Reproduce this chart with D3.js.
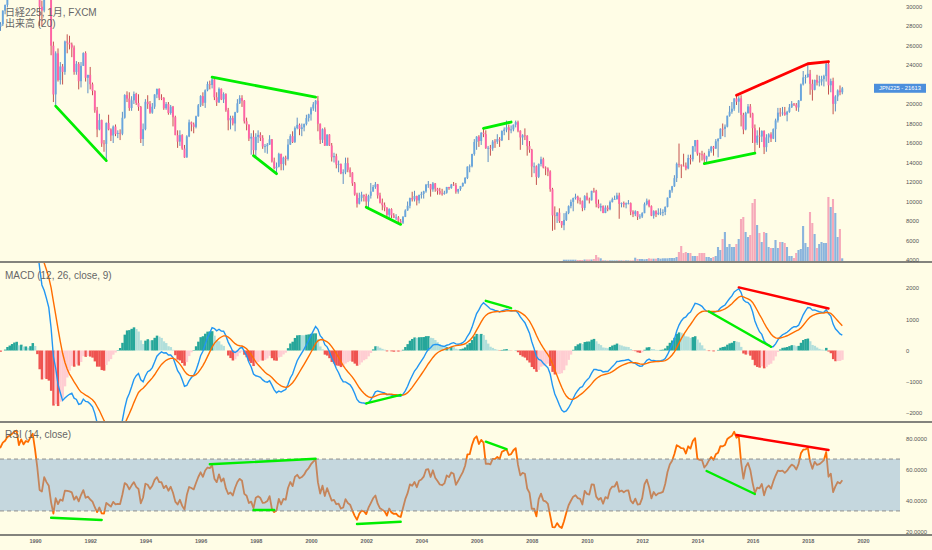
<!DOCTYPE html>
<html>
<head>
<meta charset="utf-8">
<script src="https://cdn.jsdelivr.net/npm/d3@7"></script>
<style>
  body { margin: 0; background: #fffde6; }
  svg { display: block; font-family: "Liberation Sans", "Noto Sans CJK JP", sans-serif; }
</style>
</head>
<body>
<div id="chart"></div>
<script>
// Monthly bars from Jan 1986 to Apr 2019 (open = previous close)
const startYear = 1986;
const prevClose = 13113;
const closes = [
  13024, 13641, 15860, 15825, 16626, 17654, 17471, 18787, 17852, 16910, 17852, 18701,
  20048, 20766, 21566, 23274, 25229, 24176, 24488, 26029, 26011, 22765, 22687, 21564,
  23622, 24694, 26260, 27434, 27418, 27769, 28078, 27896, 27924, 28180, 29579, 30159,
  31581, 31985, 32839, 33713, 34267, 32949, 34954, 34431, 35637, 35549, 37269, 38916,
  37189, 34592, 29980, 29585, 33131, 31940, 31036, 25978, 20984, 25194, 22455, 23849,
  23293, 26409, 26292, 26111, 25790, 23291, 24121, 22336, 23916, 25222, 22687, 22984,
  22023, 21339, 19346, 17391, 18348, 15952, 15910, 18061, 17399, 16767, 17684, 16925,
  17024, 16953, 18591, 20919, 20552, 19590, 20380, 21027, 20106, 19703, 16408, 17417,
  20229, 19997, 19112, 19725, 20974, 21552, 20644, 20629, 19564, 19990, 19076, 19723,
  18650, 16806, 16140, 16807, 15437, 14517, 16678, 18117, 17913, 17655, 18744, 19868,
  20812, 20125, 21406, 22041, 21956, 22530, 20693, 20167, 21556, 20467, 21020, 19361,
  18330, 18557, 18003, 19151, 20068, 20605, 20331, 18229, 17888, 16458, 16636, 15259,
  16628, 16831, 16527, 15641, 15671, 15830, 16379, 14108, 13406, 13565, 14884, 13842,
  14499, 14368, 15837, 16702, 16112, 17530, 17862, 17437, 17605, 17942, 18558, 18934,
  19540, 19960, 20337, 17974, 16332, 17411, 15727, 16861, 15747, 14540, 14649, 13786,
  13844, 12884, 12999, 13934, 13262, 12969, 11861, 10714, 9775, 10366, 10697, 10543,
  9998, 10588, 11025, 11493, 11764, 10622, 9878, 9619, 9383, 8640, 9216, 8579,
  8340, 8363, 7973, 7831, 8425, 9083, 9563, 10344, 10219, 10560, 10101, 10677,
  10784, 11042, 11715, 11762, 11236, 11859, 11326, 11082, 10824, 10771, 10899, 11489,
  11388, 11740, 11669, 11009, 11277, 11584, 11900, 12414, 13574, 13607, 14872, 16111,
  16650, 16205, 17060, 16907, 15467, 15505, 15457, 16141, 16128, 16399, 16274, 17226,
  17383, 17604, 17288, 17400, 17876, 18138, 17249, 16569, 16786, 16737, 15681, 15308,
  13592, 13603, 12526, 13850, 14339, 13481, 13377, 13073, 11260, 8577, 8512, 8860,
  7994, 7568, 8110, 8828, 9523, 9958, 10357, 10493, 10133, 10035, 9345, 10546,
  10198, 10126, 11090, 11057, 9769, 9383, 9537, 8824, 9369, 9202, 9937, 10229,
  10238, 10624, 9755, 9850, 9694, 9816, 9833, 8955, 8700, 8988, 8435, 8455,
  8803, 9723, 10084, 9521, 8543, 9007, 8695, 8840, 8870, 8928, 9446, 10395,
  11139, 11559, 12398, 13861, 13775, 13677, 13668, 13389, 14456, 14328, 15662, 16291,
  14915, 14841, 14828, 14304, 14632, 15162, 15621, 15425, 16174, 16414, 17460, 17451,
  17674, 18798, 19207, 19520, 20563, 20236, 20585, 18890, 17388, 19083, 19747, 19034,
  17518, 16027, 16759, 16666, 17235, 15576, 16569, 16887, 16450, 17425, 18308, 19114,
  19041, 19119, 18909, 19197, 19651, 20033, 19925, 19646, 20356, 22012, 22725, 22765,
  23098, 22068, 21454, 22468, 22202, 22305, 22554, 22865, 24120, 21920, 22351, 20015,
  20773, 21385, 21206, 21613
];
const highs = [
  13140, 13700, 15900, 15990, 16700, 17700, 18100, 18900, 18937, 17900, 17900, 18900,
  20100, 21000, 22000, 24000, 25300, 25900, 25000, 26100, 26300, 26650, 23500, 23000,
  23800, 24800, 26300, 27600, 28000, 27900, 28300, 28300, 28200, 28400, 29600, 30200,
  31700, 32300, 32900, 33800, 34300, 34400, 35000, 35000, 35700, 35800, 37300, 38957,
  38950, 37400, 34600, 30600, 33300, 33200, 33200, 31100, 26400, 25400, 25700, 24300,
  24100, 26500, 27146, 27000, 26300, 26000, 24400, 24300, 24300, 25300, 25400, 23000,
  23800, 22200, 21400, 19700, 19000, 18400, 16300, 18100, 18900, 17500, 17800, 17900,
  17300, 17400, 19200, 21000, 21300, 21200, 20800, 21281, 21150, 21000, 19800, 18000,
  20500, 20900, 20300, 20100, 21000, 21573, 21600, 21000, 20700, 20200, 20200, 19900,
  19800, 18800, 17300, 17300, 16900, 15800, 16800, 18400, 18200, 18100, 18800, 20000,
  20900, 21200, 21500, 22300, 22400, 22750, 22700, 21200, 21700, 21600, 21200, 21100,
  19600, 18800, 18800, 19200, 20500, 20900, 20900, 20400, 18600, 17900, 17000, 17300,
  17000, 17300, 17100, 16800, 15900, 16000, 16800, 16400, 14500, 14000, 15000, 14900,
  14600, 14700, 16400, 16900, 17200, 17700, 18600, 18000, 18000, 18000, 18900, 19000,
  19700, 20200, 20400, 20833, 18000, 17500, 17600, 16900, 16900, 16000, 15000, 14900,
  14200, 13900, 13300, 14500, 14500, 13500, 13000, 12000, 10900, 10900, 11000, 10700,
  10800, 10700, 11900, 11700, 12000, 11800, 10900, 10300, 9900, 9400, 9300, 9300,
  8800, 8700, 8500, 8200, 8500, 9200, 10000, 10400, 11000, 11100, 10600, 10700,
  11000, 11100, 11800, 12100, 11800, 12000, 11900, 11400, 11400, 11300, 11100, 11500,
  11500, 11800, 12000, 11900, 11300, 11600, 11950, 12500, 13600, 13800, 14900, 16400,
  16700, 16800, 17100, 17563, 17300, 15700, 15800, 16300, 16400, 16900, 16600, 17300,
  17600, 18300, 17900, 17800, 17900, 18300, 18295, 17300, 16900, 17500, 16800, 16200,
  15400, 14000, 13700, 13900, 14600, 14500, 13600, 13500, 13200, 11400, 9500, 8900,
  9300, 8000, 8800, 9000, 9600, 10200, 10400, 10800, 10600, 10400, 10100, 10650,
  10900, 10400, 11100, 11400, 11200, 10200, 9800, 9600, 9600, 9600, 10100, 10400,
  10600, 10900, 10900, 9900, 10000, 9900, 10150, 9900, 9100, 9100, 9000, 8700,
  8900, 9900, 10300, 10200, 9600, 9100, 9100, 9300, 9300, 9200, 9500, 10400,
  11200, 11600, 12700, 14000, 15942, 13800, 14900, 14000, 14800, 14800, 15700, 16300,
  16320, 15000, 15200, 15000, 14700, 15400, 15700, 15700, 16400, 16500, 17500, 18000,
  17900, 18800, 19800, 20200, 20600, 20952, 20800, 20900, 19100, 19200, 20000, 20000,
  19100, 17900, 17300, 17600, 17300, 17300, 16900, 17000, 17100, 17500, 18500, 19600,
  19600, 19700, 19700, 19300, 20000, 20300, 20100, 20100, 20400, 22100, 23382, 23000,
  24129, 23500, 22500, 22500, 23000, 22900, 22900, 23000, 24300, 24448, 22600, 22700,
  20900, 21500, 21900, 21750
];
const lows = [
  12880, 12900, 13600, 14800, 15450, 16500, 16900, 17200, 17400, 15820, 16600, 17800,
  18500, 19500, 20500, 21500, 23000, 24000, 23300, 24400, 25400, 21000, 21400, 21000,
  21200, 23400, 24600, 26100, 27000, 27200, 27400, 27400, 27100, 27500, 28000, 29200,
  29900, 31100, 31500, 32600, 33500, 32800, 32800, 34000, 34300, 34900, 35500, 37200,
  36800, 33300, 28000, 28000, 29400, 31500, 31000, 25000, 20200, 19781, 22300, 22000,
  22000, 23000, 25200, 25600, 24800, 23000, 23000, 21500, 21700, 23900, 22300, 21100,
  21500, 20900, 19100, 16600, 17300, 15600, 15100, 14194, 17300, 16200, 16000, 16700,
  16500, 16300, 16800, 18500, 20200, 19300, 19300, 20000, 19900, 19300, 16000, 15700,
  17300, 19500, 19000, 19000, 19500, 20600, 20400, 20400, 19400, 19400, 18900, 18900,
  17700, 16800, 15500, 15700, 15300, 14485, 14500, 16600, 17200, 17000, 17500, 18700,
  19700, 19800, 19600, 21300, 21500, 21600, 20400, 19800, 20100, 20400, 20100, 19200,
  17300, 17400, 17800, 17200, 19100, 20000, 19700, 18000, 17300, 16200, 14800, 14775,
  14488, 16000, 16200, 15400, 15000, 14900, 15800, 14000, 13300, 12787, 13500, 13200,
  13200, 13700, 14200, 15800, 16000, 16000, 17400, 16800, 16700, 17200, 17800, 18200,
  18300, 19300, 19200, 17200, 15900, 16000, 15700, 15700, 15700, 14100, 14000, 13400,
  13000, 12800, 11800, 12800, 13000, 12500, 11600, 10600, 9380, 9700, 10000, 10000,
  9420, 9400, 10300, 11000, 11300, 10300, 9800, 9100, 9000, 8200, 8300, 8300,
  8300, 8100, 7800, 7603, 7700, 8400, 9050, 9300, 10000, 10000, 9600, 9800,
  10300, 10300, 10900, 11400, 10500, 11000, 11000, 10700, 10700, 10600, 10700, 10800,
  11200, 11300, 11600, 10800, 10800, 11100, 11500, 11800, 12300, 13000, 13500, 14700,
  15300, 15600, 15800, 16600, 15400, 14045, 14700, 15200, 15500, 15900, 15600, 16200,
  16800, 17100, 16300, 17000, 17200, 17600, 17100, 15300, 15800, 16300, 14700, 15000,
  12500, 12900, 11700, 12400, 13600, 13400, 12700, 12600, 11000, 6994, 7100, 7800,
  7800, 7300, 7054, 8000, 8700, 9300, 9000, 10200, 9800, 9700, 9000, 9100,
  10100, 9800, 10100, 10900, 9400, 9300, 9000, 8800, 8800, 9000, 9100, 9900,
  10200, 10200, 8227, 9400, 9400, 9300, 9700, 8600, 8400, 8500, 8100, 8200,
  8300, 8800, 9600, 9400, 8500, 8240, 8400, 8600, 8600, 8500, 8600, 9400,
  10350, 10900, 11500, 12000, 13500, 12400, 13600, 13200, 13300, 13800, 14100, 15100,
  14700, 13995, 14200, 13885, 13960, 14600, 15000, 14700, 15400, 14529, 16400, 16700,
  16600, 17600, 18700, 19000, 19300, 19900, 19100, 17700, 16901, 17300, 19000, 18600,
  16000, 14865, 15800, 15500, 16100, 14864, 15100, 16000, 16100, 16400, 16100, 18100,
  18700, 18800, 18800, 18224, 19100, 19600, 19800, 19300, 19200, 20300, 21900, 22100,
  22700, 20950, 20347, 21400, 21900, 21800, 21900, 21800, 22300, 20971, 21200, 18948,
  19240, 20300, 20900, 21000
];
// volume (thousands) exists from Jan 2009
const volumeStart = 2009;
const volumes = [
  0, 0, 1.3, 1.3, 1.3, 1.3, 1.3, 1.3, 1, 1, 1, 1.5,
  1.5, 1.5, 1.5, 2, 6, 3.7, 2.7, 0.8, 0.6, 0.6, 0.6, 0.6,
  0.6, 0.6, 0.8, 0.6, 0.6, 0.6, 0.6, 0.6, 0.6, 3.3, 2, 2,
  2, 1.7, 2, 2.7, 2.3, 2.3, 2.3, 3, 2.3, 2.7, 2.7, 2.7,
  3, 3, 3, 4, 9, 15, 8, 9, 8, 8, 5, 5,
  5, 8, 8, 8, 4, 4, 3, 4, 5, 14, 11, 22,
  29, 14, 17, 14, 14, 17, 22, 42, 44, 29, 24, 26,
  58, 62, 36, 28, 19, 29, 28, 14, 13, 13, 21, 13,
  19, 19, 18, 14, 5, 5, 3, 8, 11, 12, 35, 18,
  14, 49, 38, 27, 13, 17, 19, 18, 18, 64, 54, 62,
  48, 24, 32, 2.7
];

const priceTicks = d3.range(4000, 30001, 2000);
const macdTicks = [2000, 1000, 0, -1000, -2000];
const rsiTicks = [80, 60, 40, 20];
const rsiBand = [33.33, 66.67];
const yearTicks = d3.range(1990, 2021, 2);
const lastPrice = 21613;

// hand-drawn trendlines: [month, value]
const priceLines = [
  { color: "#00ee00", pts: [["1990-10", 19781], ["1992-08", 14194]] },
  { color: "#00ee00", pts: [["1996-06", 22750], ["2000-03", 20700]] },
  { color: "#00ee00", pts: [["1997-12", 14700], ["1998-10", 12850]] },
  { color: "#00ee00", pts: [["2002-01", 9420], ["2003-04", 7650]] },
  { color: "#00ee00", pts: [["2006-04", 17500], ["2007-04", 18150]] },
  { color: "#00ee00", pts: [["2014-04", 13885], ["2016-02", 14950]] },
  { color: "#ff0000", pts: [["2015-06", 20900], ["2018-01", 24129], ["2018-10", 24350]] }
];
const macdLines = [
  { color: "#00ee00", pts: [["2002-01", -1690], ["2003-04", -1420]] },
  { color: "#00ee00", pts: [["2006-05", 1590], ["2007-04", 1355]] },
  { color: "#00ee00", pts: [["2014-06", 1250], ["2016-09", 120]] },
  { color: "#ff0000", pts: [["2015-07", 2020], ["2018-10", 1345]] }
];
const rsiLines = [
  { color: "#00ee00", pts: [["1990-08", 29], ["1992-06", 27.5]] },
  { color: "#00ee00", pts: [["1996-05", 63.3], ["2000-03", 66.9]] },
  { color: "#00ee00", pts: [["1997-12", 33.9], ["1998-09", 33.9]] },
  { color: "#00ee00", pts: [["2001-09", 24.9], ["2003-04", 26.4]] },
  { color: "#00ee00", pts: [["2006-05", 77.8], ["2007-02", 73.1]] },
  { color: "#00ee00", pts: [["2014-05", 59], ["2016-02", 44.2]] },
  { color: "#ff0000", pts: [["2015-06", 82.1], ["2018-10", 72.5]] }
];

const monthTime = s => +s.slice(0, 4) + (+s.slice(5, 7) - 1) / 12;

const bars = closes.map((c, i) => ({
  t: startYear + i / 12,
  o: i === 0 ? prevClose : closes[i - 1],
  h: highs[i], l: lows[i], c
}));
const volOffset = (volumeStart - startYear) * 12;
volumes.forEach((v, j) => { bars[volOffset + j].v = v; });

// indicators, computed from the closes the way the platform does
function smooth(src, len, alpha) {
  const out = src.map(() => null);
  let prev = null, buf = [];
  src.forEach((v, i) => {
    if (v == null) return;
    if (prev == null) {
      buf.push(v);
      if (buf.length === len) { prev = d3.mean(buf); out[i] = prev; }
    } else {
      prev = alpha * v + (1 - alpha) * prev;
      out[i] = prev;
    }
  });
  return out;
}
const ema = (src, len) => smooth(src, len, 2 / (len + 1));
const rma = (src, len) => smooth(src, len, 1 / len);

const fast = ema(closes, 12), slow = ema(closes, 26);
const macd = closes.map((c, i) => fast[i] == null || slow[i] == null ? null : fast[i] - slow[i]);
const signal = ema(macd, 9);
const hist = macd.map((m, i) => m == null || signal[i] == null ? null : m - signal[i]);
const ups = closes.map((c, i) => i === 0 ? null : Math.max(c - closes[i - 1], 0));
const downs = closes.map((c, i) => i === 0 ? null : Math.max(closes[i - 1] - c, 0));
const upAvg = rma(ups, 14), downAvg = rma(downs, 14);
const rsi = closes.map((c, i) => upAvg[i] == null ? null :
  downAvg[i] === 0 ? 100 : 100 - 100 / (1 + upAvg[i] / downAvg[i]));

// layout
const width = 932, height = 550;
const bg = "#fffde6";

const svg = d3.select("#chart").append("svg")
  .attr("width", width)
  .attr("height", height);
svg.append("rect").attr("width", width).attr("height", height).attr("fill", bg);

const x = d3.scaleLinear().domain([1990, 2020]).range([35, 863]);
const yPrice = d3.scaleLinear().domain([4000, 30000]).range([260, 6.5]);
const yVol = d3.scaleLinear().domain([0, 66]).range([261, 195]);
const yMacd = d3.scaleLinear().domain([-2000, 2000]).range([413, 288]);
const yRsi = d3.scaleLinear().domain([20, 80]).range([531.7, 438.3]);
const step = x(1990 + 1 / 12) - x(1990);

const defs = svg.append("defs");
function addClip(id, y0, y1) {
  defs.append("clipPath").attr("id", id)
    .append("rect").attr("x", 0).attr("y", y0).attr("width", 900).attr("height", y1 - y0);
}
addClip("clipMain", 0, 261.5);
addClip("clipMacd", 263, 421);
addClip("clipRsi", 423, 534);

function drawTrend(g, lines, y, w) {
  lines.forEach(l => {
    g.append("path")
      .attr("d", d3.line().x(p => x(monthTime(p[0]))).y(p => y(p[1]))(l.pts))
      .attr("fill", "none")
      .attr("stroke", l.color)
      .attr("stroke-width", w)
      .attr("stroke-linecap", "round")
      .attr("stroke-linejoin", "round");
  });
}

// main panel
const main = svg.append("g").attr("clip-path", "url(#clipMain)");

main.selectAll("rect.vol")
  .data(bars.filter(d => d.v > 0))
  .enter().append("rect")
  .attr("class", "vol")
  .attr("x", d => x(d.t) - step / 2)
  .attr("width", step - 0.2)
  .attr("y", d => yVol(d.v))
  .attr("height", d => yVol(0) - yVol(d.v))
  .attr("fill", d => d.c >= d.o ? "#8ab4dd" : "#f6a9b9");

main.selectAll("line.wick")
  .data(bars)
  .enter().append("line")
  .attr("class", "wick")
  .attr("x1", d => x(d.t)).attr("x2", d => x(d.t))
  .attr("y1", d => yPrice(Math.max(d.h, d.o, d.c)))
  .attr("y2", d => yPrice(Math.min(d.l, d.o, d.c)))
  .attr("stroke", d => d.c >= d.o ? "#5d8fc4" : "#c4524e")
  .attr("stroke-width", 1);

main.selectAll("rect.body")
  .data(bars)
  .enter().append("rect")
  .attr("class", "body")
  .attr("x", d => x(d.t) - 0.95)
  .attr("width", 1.9)
  .attr("y", d => yPrice(Math.max(d.o, d.c)))
  .attr("height", d => Math.max(0.8, Math.abs(yPrice(d.o) - yPrice(d.c))))
  .attr("fill", d => d.c >= d.o ? "#6aa6dd" : "#ff64a6");

drawTrend(main, priceLines, yPrice, 2.8);

// MACD panel
const macdG = svg.append("g").attr("clip-path", "url(#clipMacd)");
const histData = bars.map((d, i) => ({ t: d.t, h: hist[i], prev: i > 0 ? hist[i - 1] : null }))
  .filter(d => d.h != null);

macdG.selectAll("rect.hist")
  .data(histData)
  .enter().append("rect")
  .attr("class", "hist")
  .attr("x", d => x(d.t) - step / 2)
  .attr("width", step + 0.2)
  .attr("y", d => Math.min(yMacd(0), yMacd(d.h)))
  .attr("height", d => Math.abs(yMacd(d.h) - yMacd(0)))
  .attr("fill", d => d.h >= 0
    ? (d.prev != null && d.prev < d.h ? "#26a69a" : "#b2dfdb")
    : (d.prev != null && d.prev < d.h ? "#ffcdd2" : "#ef5350"));

const seriesLine = (vals, y) => d3.line()
  .defined(d => vals[d] != null)
  .x(d => x(bars[d].t))
  .y(d => y(vals[d]));
const idx = d3.range(bars.length);

macdG.append("path")
  .attr("d", seriesLine(macd, yMacd)(idx))
  .attr("fill", "none").attr("stroke", "#2196f3").attr("stroke-width", 1.4);
macdG.append("path")
  .attr("d", seriesLine(signal, yMacd)(idx))
  .attr("fill", "none").attr("stroke", "#ff6d00").attr("stroke-width", 1.4);

drawTrend(macdG, macdLines, yMacd, 2.4);

// RSI panel
const rsiG = svg.append("g").attr("clip-path", "url(#clipRsi)");
rsiG.append("path")
  .attr("d", seriesLine(rsi, yRsi)(idx))
  .attr("fill", "none").attr("stroke", "#ff6d00").attr("stroke-width", 1.8)
  .attr("stroke-linejoin", "round");

rsiG.append("rect")
  .attr("x", 0).attr("width", 900)
  .attr("y", yRsi(rsiBand[1]))
  .attr("height", yRsi(rsiBand[0]) - yRsi(rsiBand[1]))
  .attr("fill", "rgb(121,165,211)")
  .attr("fill-opacity", 0.43);

rsiBand.forEach(v => {
  rsiG.append("line")
    .attr("x1", 0).attr("x2", 900)
    .attr("y1", yRsi(v)).attr("y2", yRsi(v))
    .attr("stroke", "#8f8f8f").attr("stroke-width", 1)
    .attr("stroke-dasharray", "4,3");
});

drawTrend(rsiG, rsiLines, yRsi, 2.4);

// panel separators
[262, 422, 535].forEach(y => {
  svg.append("line")
    .attr("x1", 0).attr("x2", width)
    .attr("y1", y).attr("y2", y)
    .attr("stroke", "#5a5a5a").attr("stroke-width", 1.5);
});

// right-hand scales
const tagY = yPrice(lastPrice);
function rightAxis(scale, ticks, fmt) {
  svg.append("g")
    .attr("transform", "translate(906,0)")
    .call(d3.axisRight(scale).tickValues(ticks).tickSize(0).tickPadding(0).tickFormat(fmt))
    .call(g => g.select(".domain").remove())
    .attr("font-family", "Liberation Sans, sans-serif")
    .attr("font-size", 5.8)
    .selectAll("text").attr("fill", "#555");
}
// the price level hidden under the last-price tag is left out
rightAxis(yPrice, priceTicks.filter(v => Math.abs(yPrice(v) - tagY) > 7), d3.format("d"));
rightAxis(yMacd, macdTicks, d => d < 0 ? "\u2212" + Math.abs(d) : d);
rightAxis(yRsi, rsiTicks, d3.format(".4f"));

// last price tag
svg.append("rect")
  .attr("x", 874).attr("y", tagY - 4.5)
  .attr("width", 52).attr("height", 9)
  .attr("fill", "#4c8fdc");
svg.append("text")
  .attr("x", 900).attr("y", tagY + 2)
  .attr("text-anchor", "middle")
  .attr("fill", "#fff")
  .style("font-size", "5.8px")
  .text("JPN225 - " + lastPrice);

// time axis
svg.append("g")
  .attr("transform", "translate(0,539)")
  .call(d3.axisBottom(x).tickValues(yearTicks).tickSize(0).tickPadding(0).tickFormat(d3.format("d")))
  .call(g => g.select(".domain").remove())
  .attr("font-family", "Liberation Sans, sans-serif")
  .attr("font-size", 5.5)
  .attr("font-weight", "bold")
  .selectAll("text").attr("fill", "#666");

// legends
const legend = [
  { text: "日経225, 1月, FXCM", y: 16 },
  { text: "出来高 (20)", y: 27 },
  { text: "MACD (12, 26, close, 9)", y: 278.5 },
  { text: "RSI (14, close)", y: 437.5 }
];
svg.selectAll("text.legend")
  .data(legend)
  .enter().append("text")
  .attr("class", "legend")
  .attr("x", 5)
  .attr("y", d => d.y)
  .attr("fill", "#666")
  .style("font-size", "10px")
  .text(d => d.text);
</script>
</body>
</html>
